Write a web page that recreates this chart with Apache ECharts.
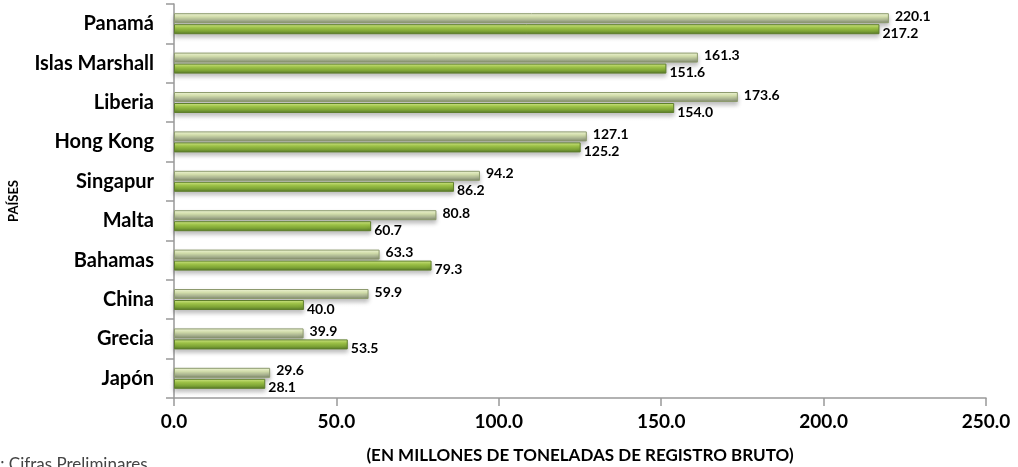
<!DOCTYPE html>
<html lang="es">
<head>
    <meta charset="UTF-8">
    <title>flota mundial</title>
    <script type="text/javascript" src="https://cdn.jsdelivr.net/npm/echarts@6/dist/echarts.min.js"></script>
</head>
<body style="margin:0;background:#fff;">
<div id="main" style="width: 1018px;height: 467px;"></div>

<script type="text/javascript">

    var paises = ['Panamá', 'Islas Marshall', 'Liberia', 'Hong Kong', 'Singapur', 'Malta', 'Bahamas', 'China', 'Grecia', 'Japón'];
    var serieA = [220.1, 161.3, 173.6, 127.1, 94.2, 80.8, 63.3, 59.9, 39.9, 29.6];
    var serieB = [217.2, 151.6, 154.0, 125.2, 86.2, 60.7, 79.3, 40.0, 53.5, 28.1];
    var ejeX = [0, 50, 100, 150, 200, 250];

    var fuente = 'Lato';
    var chart = echarts.init(document.getElementById('main'));

    function grad(stops) {
        return new echarts.graphic.LinearGradient(0, 0, 0, 1, stops);
    }

    var option = {
        animation: false,
        backgroundColor: '#fff',
        grid: { left: 174, right: 32, top: 4, bottom: 69, outerBoundsMode: 'none' },
        xAxis: {
            type: 'value',
            min: ejeX[0],
            max: ejeX[ejeX.length - 1],
            interval: 50,
            name: '(EN MILLONES DE TONELADAS DE REGISTRO BRUTO)',
            nameLocation: 'middle',
            nameGap: 49,
            nameTextStyle: { fontFamily: fuente, fontWeight: 'bold', fontSize: 17, color: '#000' },
            axisLine: { show: true, lineStyle: { color: '#999', width: 1.5 } },
            axisTick: { show: true, length: 8, lineStyle: { color: '#999', width: 1.5 } },
            axisLabel: {
                fontFamily: fuente, fontWeight: 'bold', fontSize: 19, color: '#000', margin: 14,
                formatter: function (v) { return v.toFixed(1); }
            },
            splitLine: { show: false }
        },
        yAxis: {
            type: 'category',
            inverse: true,
            data: paises,
            name: 'PAÍSES',
            nameLocation: 'middle',
            nameGap: 154,
            nameRotate: 90,
            nameTextStyle: { fontFamily: fuente, fontWeight: 'bold', fontSize: 13, color: '#000' },
            axisLine: { show: true, lineStyle: { color: '#999', width: 1.5 } },
            axisTick: { show: true, length: 8, lineStyle: { color: '#999', width: 1.5 } },
            axisLabel: { fontFamily: fuente, fontWeight: 'bold', fontSize: 20, color: '#000', margin: 20 }
        },
        series: [
            {
                type: 'bar',
                data: serieA,
                barWidth: 10,
                barGap: '10%',
                itemStyle: {
                    color: grad([
                        { offset: 0, color: '#f4fadc' },
                        { offset: 0.35, color: '#dde9b4' },
                        { offset: 0.75, color: '#a3ad8c' },
                        { offset: 1, color: '#7c8468' }
                    ]),
                    borderColor: '#8d9a6e',
                    borderWidth: 1,
                    shadowColor: 'rgba(0,0,0,0.25)',
                    shadowBlur: 4,
                    shadowOffsetY: 3
                },
                label: {
                    show: true,
                    position: 'right',
                    distance: 6,
                    offset: [0, -2],
                    fontFamily: fuente, fontWeight: 'bold', fontSize: 14, color: '#000',
                    formatter: function (p) { return p.value.toFixed(1); }
                }
            },
            {
                type: 'bar',
                data: serieB,
                barWidth: 10,
                itemStyle: {
                    color: grad([
                        { offset: 0, color: '#d6ec8c' },
                        { offset: 0.35, color: '#a6cc4c' },
                        { offset: 0.7, color: '#7fa636' },
                        { offset: 1, color: '#55742a' }
                    ]),
                    borderColor: '#5f7f2c',
                    borderWidth: 1,
                    shadowColor: 'rgba(0,0,0,0.25)',
                    shadowBlur: 4,
                    shadowOffsetY: 3
                },
                label: {
                    show: true,
                    position: 'right',
                    distance: 3,
                    offset: [0, 4],
                    fontFamily: fuente, fontWeight: 'bold', fontSize: 14, color: '#000',
                    formatter: function (p) { return p.value.toFixed(1); }
                }
            }
        ],
        graphic: [
            {
                type: 'text',
                left: -7,
                top: 456,
                style: { text: '*: Cifras Preliminares', fontFamily: fuente, fontSize: 17, fill: '#444' }
            }
        ]
    };

    chart.setOption(option);
</script>
</body>
</html>
